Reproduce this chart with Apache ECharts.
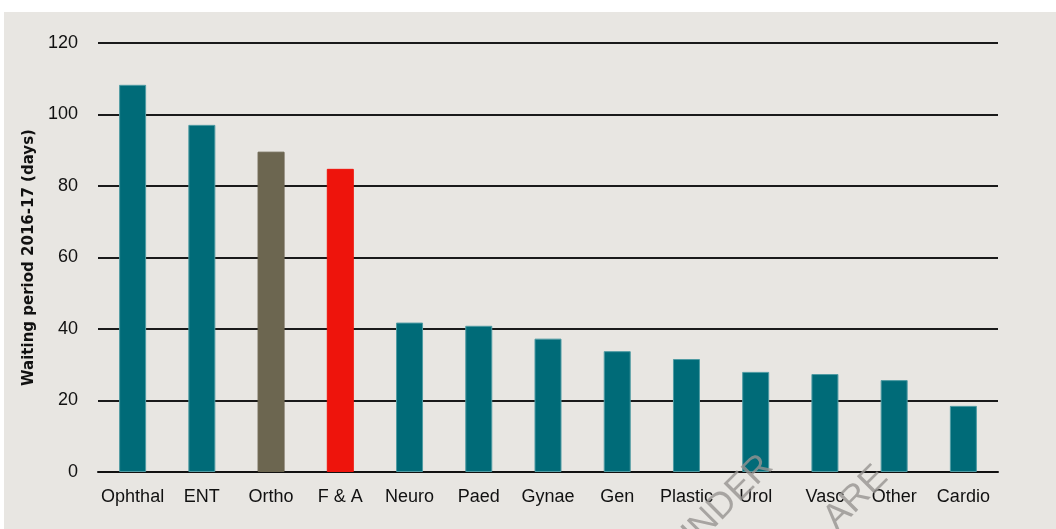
<!DOCTYPE html>
<html>
<head>
<meta charset="utf-8">
<script src="https://cdn.jsdelivr.net/npm/echarts@6/dist/echarts.min.js"></script>
<style>
html,body{margin:0;padding:0;background:#ffffff;}
#c{width:1056px;height:529px;}
</style>
</head>
<body>
<div id="c"></div>
<script>
const categories = ['Ophthal','ENT','Ortho','F & A','Neuro','Paed','Gynae','Gen','Plastic','Urol','Vasc','Other','Cardio'];
const waitingDays = [108.3, 97.1, 89.6, 84.8, 41.8, 40.9, 37.3, 33.8, 31.6, 28.0, 27.4, 25.7, 18.5];
const barColors = ['#006b78','#006b78','#6c6650','#ee140c','#006b78','#006b78','#006b78','#006b78','#006b78','#006b78','#006b78','#006b78','#006b78'];
const yTicks = [0, 20, 40, 60, 80, 100, 120];
const yAxisTitle = 'Waiting period 2016-17 (days)';
const watermark = ['UNDER', 'ARE'];

const chart = echarts.init(document.getElementById('c'), null, {renderer:'canvas'});
chart.setOption({
  animation:false,
  backgroundColor:'transparent',
  graphic:[
    {type:'rect', z:-10, silent:true, shape:{x:4, y:12, width:1052, height:517}, style:{fill:'#e8e6e2'}},
    {type:'text', z:100, silent:true, x:722, y:506, rotation:Math.PI/4,
      style:{text:watermark[0], fill:'rgba(150,148,145,0.8)', font:'36px "Liberation Sans", Arial, sans-serif', textAlign:'center', textVerticalAlign:'middle'}},
    {type:'text', z:100, silent:true, x:856, y:498, rotation:Math.PI/4,
      style:{text:watermark[1], fill:'rgba(150,148,145,0.8)', font:'36px "Liberation Sans", Arial, sans-serif', textAlign:'center', textVerticalAlign:'middle'}}
  ],
  grid:{left:98, right:58, top:43, bottom:57, containLabel:false},
  xAxis:{
    type:'category',
    data:categories,
    axisLine:{show:true, lineStyle:{color:'#111', width:2}},
    axisTick:{show:false},
    axisLabel:{color:'#111', fontSize:18, margin:16, interval:0, fontFamily:'"Liberation Sans", Arial, sans-serif'}
  },
  yAxis:{
    type:'value',
    min:yTicks[0], max:yTicks[yTicks.length-1], interval:20,
    name:yAxisTitle,
    nameLocation:'middle',
    nameGap:60,
    nameTextStyle:{color:'#111', fontSize:15, fontWeight:'bold', fontFamily:'"DejaVu Sans", sans-serif'},
    axisLine:{show:false},
    axisTick:{show:false},
    axisLabel:{color:'#111', fontSize:18, margin:20, fontFamily:'"Liberation Sans", Arial, sans-serif'},
    splitLine:{show:true, lineStyle:{color:'#1a1a1a', width:2}}
  },
  series:[{
    type:'bar',
    data:waitingDays.map((v,i)=>({value:v, itemStyle:{color:barColors[i], borderColor: barColors[i]==='#006b78' ? '#4f9ba3' : barColors[i], borderWidth:1}})),
    barWidth:'39%',
    z:3
  }]
});
</script>
</body>
</html>
